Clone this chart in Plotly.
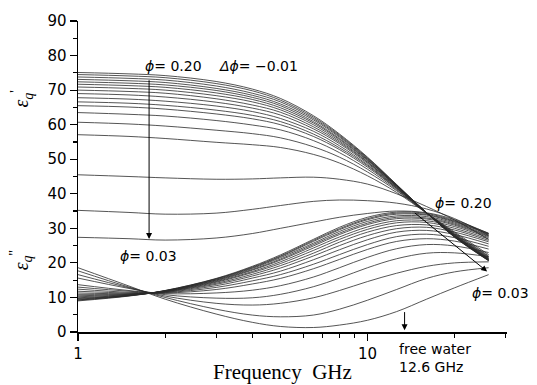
import plotly.graph_objects as go
import math

# Frequencies (GHz) at which the curves were read
freq = [1, 1.5, 2, 3, 4, 5, 6.5, 8, 10, 12.6, 16, 20, 26.2]

# Real part eps_q'  (phi = 0.20 ... 0.03)
r20 = [75.1, 74.7, 74.2, 72.5, 70.3, 67.6, 62.6, 57.3, 50.6, 42.7, 34.5, 27.4, 20.6]
r19 = [74.5, 74.1, 73.6, 71.9, 69.8, 67.1, 62.2, 57.0, 50.4, 42.6, 34.5, 27.5, 20.7]
r18 = [73.8, 73.4, 72.9, 71.2, 69.1, 66.6, 61.8, 56.7, 50.2, 42.5, 34.5, 27.5, 20.7]
r17 = [73.1, 72.7, 72.2, 70.5, 68.5, 66.0, 61.4, 56.4, 50.0, 42.4, 34.5, 27.6, 20.8]
r16 = [72.4, 72.0, 71.5, 69.9, 67.9, 65.5, 60.9, 56.0, 49.8, 42.4, 34.5, 27.6, 20.9]
r15 = [71.7, 71.3, 70.8, 69.2, 67.3, 64.9, 60.5, 55.7, 49.6, 42.3, 34.5, 27.7, 20.9]
r14 = [70.9, 70.5, 70.0, 68.4, 66.6, 64.3, 60.0, 55.3, 49.3, 42.2, 34.5, 27.7, 21.0]
r13 = [70.0, 69.6, 69.1, 67.5, 65.7, 63.6, 59.4, 54.9, 49.1, 42.1, 34.5, 27.8, 21.1]
r12 = [69.0, 68.6, 68.0, 66.5, 64.8, 62.8, 58.8, 54.5, 48.8, 41.9, 34.5, 27.9, 21.2]
r11 = [67.8, 67.4, 66.8, 65.4, 63.8, 61.8, 58.1, 53.9, 48.4, 41.8, 34.5, 28.0, 21.3]
r10 = [66.6, 66.2, 65.6, 64.2, 62.7, 60.9, 57.3, 53.3, 48.1, 41.6, 34.5, 28.1, 21.4]
r09 = [65.5, 65.1, 64.5, 63.1, 61.7, 60.0, 56.6, 52.8, 47.7, 41.5, 34.5, 28.2, 21.6]
r08 = [63.5, 63.0, 62.5, 61.2, 59.9, 58.5, 55.4, 51.9, 47.1, 41.2, 34.4, 28.4, 21.8]
r07 = [60.7, 60.2, 59.6, 58.4, 57.4, 56.2, 53.6, 50.6, 46.3, 40.9, 34.4, 28.6, 22.0]
r06 = [57.1, 56.6, 56.0, 54.9, 54.2, 53.4, 51.4, 48.9, 45.2, 40.4, 34.4, 28.9, 22.4]
r05 = [45.5, 45.0, 44.6, 44.2, 44.3, 44.6, 44.8, 44.2, 42.8, 40.0, 36.3, 32.4, 26.8]
r04 = [35.2, 34.6, 34.1, 34.4, 35.5, 36.6, 37.8, 38.2, 38.0, 37.3, 35.6, 32.8, 28.0]
r03 = [27.4, 27.0, 26.6, 27.2, 28.5, 30.0, 31.8, 33.2, 34.3, 35.0, 34.5, 32.5, 28.5]

# Imaginary part eps_q''  (phi = 0.20 ... 0.03)
i20 = [9.0, 10.4, 12.0, 15.5, 19.0, 22.3, 26.8, 30.3, 33.2, 34.7, 34.3, 32.2, 28.6]
i19 = [9.2, 10.5, 12.0, 15.4, 18.8, 22.0, 26.5, 29.9, 32.8, 34.4, 34.0, 32.0, 28.4]
i18 = [9.3, 10.5, 11.9, 15.3, 18.6, 21.8, 26.2, 29.6, 32.5, 34.1, 33.8, 31.8, 28.3]
i17 = [9.5, 10.6, 11.9, 15.1, 18.4, 21.5, 25.7, 29.1, 32.0, 33.6, 33.4, 31.5, 28.0]
i16 = [9.7, 10.6, 11.9, 15.0, 18.1, 21.1, 25.3, 28.6, 31.5, 33.2, 33.0, 31.2, 27.8]
i15 = [9.9, 10.7, 11.8, 14.8, 17.9, 20.8, 24.9, 28.2, 31.1, 32.8, 32.7, 30.9, 27.6]
i14 = [10.2, 10.8, 11.8, 14.6, 17.5, 20.3, 24.3, 27.5, 30.4, 32.2, 32.2, 30.5, 27.3]
i13 = [10.5, 10.9, 11.7, 14.4, 17.2, 19.8, 23.6, 26.8, 29.7, 31.6, 31.7, 30.0, 26.9]
i12 = [10.9, 11.0, 11.7, 14.1, 16.7, 19.2, 22.8, 26.0, 28.9, 30.8, 31.0, 29.5, 26.5]
i11 = [11.3, 11.1, 11.6, 13.8, 16.2, 18.5, 22.0, 25.0, 27.9, 29.9, 30.3, 28.9, 26.1]
i10 = [11.8, 11.3, 11.5, 13.4, 15.6, 17.6, 20.9, 23.8, 26.7, 28.9, 29.4, 28.2, 25.5]
i09 = [12.4, 11.5, 11.4, 12.9, 14.8, 16.6, 19.6, 22.4, 25.3, 27.6, 28.3, 27.3, 24.8]
i08 = [13.0, 11.8, 11.3, 12.3, 13.9, 15.5, 18.3, 21.0, 23.9, 26.2, 27.0, 26.3, 24.0]
i07 = [13.7, 12.0, 11.1, 11.3, 12.1, 13.4, 15.9, 18.6, 21.6, 24.1, 25.3, 24.9, 23.0]
i06 = [15.6, 12.6, 10.8, 9.8, 9.9, 10.9, 13.1, 15.6, 18.6, 21.2, 22.8, 22.9, 21.8]
i05 = [16.6, 12.8, 10.4, 8.3, 7.8, 8.3, 9.9, 12.0, 14.6, 17.0, 19.0, 20.0, 20.3]
i04 = [17.7, 13.0, 10.0, 6.6, 4.9, 4.4, 4.9, 6.6, 9.2, 12.3, 15.5, 17.4, 18.6]
i03 = [18.6, 13.3, 9.5, 5.2, 2.8, 1.6, 1.3, 2.0, 3.4, 5.9, 9.5, 12.8, 16.6]

real_curves = [r20, r19, r18, r17, r16, r15, r14, r13, r12, r11, r10, r09,
               r08, r07, r06, r05, r04, r03]
imag_curves = [i20, i19, i18, i17, i16, i15, i14, i13, i12, i11, i10, i09,
               i08, i07, i06, i05, i04, i03]

x_ticks = [1, 10]
x_ticktext = ["1", "10"]
x_minor = [2, 3, 4, 5, 6, 7, 8, 9, 20, 30]
y_ticks = [0, 10, 20, 30, 40, 50, 60, 70, 80, 90]

fig = go.Figure()
for ys in real_curves + imag_curves:
    fig.add_trace(go.Scatter(
        x=freq, y=ys, mode="lines",
        line=dict(color="#2a2a2a", width=0.8, shape="spline"),
        hoverinfo="skip", showlegend=False))

L = math.log10
TXT = dict(family="DejaVu Sans", size=14, color="black")

ann = []
def text(x, y, s, font=TXT, xanchor="left", yref="y"):
    ann.append(dict(x=L(x), y=y, xref="x", yref=yref, text=s, showarrow=False,
                    xanchor=xanchor, yanchor="middle", font=font))

def arrow(x0, y0, x1, y1):
    ann.append(dict(x=L(x1), y=y1, ax=L(x0), ay=y0, xref="x", yref="y",
                    axref="x", ayref="y", text="", showarrow=True,
                    arrowhead=2, arrowsize=1.2, arrowwidth=1, arrowcolor="black"))

text(1.68, 77.0, "<i>ϕ</i>= 0.20")
text(3.02, 77.0, "<i>Δϕ</i>= −0.01")
text(1.375, 22.0, "<i>ϕ</i>= 0.03")
text(16.87, 37.3, "<i>ϕ</i>= 0.20")
text(22.6, 11.3, "<i>ϕ</i>= 0.03")
text(12.67, -0.055, "free water", yref="paper")
text(12.67, -0.114, "12.6 GHz", yref="paper")

arrow(1.76, 73.3, 1.76, 26.9)
arrow(14.4, 34.8, 25.9, 17.5)
arrow(13.43, 6.2, 13.43, 0.5)

# axis titles
ann.append(dict(x=0.477, y=-0.13, xref="paper", yref="paper",
                text="Frequency&nbsp;&nbsp;GHz", showarrow=False,
                xanchor="center", yanchor="middle",
                font=dict(family="Liberation Serif", size=21, color="black")))
ann.append(dict(x=-0.131, y=0.75, xref="paper", yref="paper",
                text="<i>ε</i><sub><i>q</i></sub><sup>'</sup>", showarrow=False,
                textangle=-90, xanchor="center", yanchor="middle",
                font=dict(family="Liberation Serif", size=20, color="black")))
ann.append(dict(x=-0.131, y=0.23, xref="paper", yref="paper",
                text="<i>ε</i><sub><i>q</i></sub><sup>''</sup>", showarrow=False,
                textangle=-90, xanchor="center", yanchor="middle",
                font=dict(family="Liberation Serif", size=20, color="black")))

fig.update_layout(
    width=537, height=385,
    margin=dict(l=78, r=30, t=14, b=53),
    paper_bgcolor="white", plot_bgcolor="white",
    font=dict(family="DejaVu Sans", size=15, color="black"),
    annotations=ann,
    xaxis=dict(type="log", range=[0, 1.4818], tickmode="array",
               tickvals=x_ticks, ticktext=x_ticktext,
               ticks="outside", ticklen=7, tickwidth=1.2, tickcolor="black",
               showline=True, linecolor="black", linewidth=1.5,
               showgrid=False, zeroline=False,
               tickfont=dict(family="DejaVu Sans", size=15, color="black"),
               minor=dict(tickmode="array", tickvals=x_minor, ticks="outside",
                          ticklen=4, tickwidth=1.2, tickcolor="black", showgrid=False)),
    yaxis=dict(range=[0, 90], tickmode="array", tickvals=y_ticks,
               ticks="outside", ticklen=7, tickwidth=1.2, tickcolor="black",
               showline=True, linecolor="black", linewidth=1.5,
               showgrid=False, zeroline=False,
               tickfont=dict(family="DejaVu Sans", size=15, color="black"),
               minor=dict(dtick=5, ticks="outside", ticklen=4, tickwidth=1.2,
                          tickcolor="black", showgrid=False)),
)

fig.write_html("out.html",
               config={"displayModeBar": False, "staticPlot": True},
               post_script="document.body.style.margin='0';"
                           "document.body.style.overflow='hidden';")
